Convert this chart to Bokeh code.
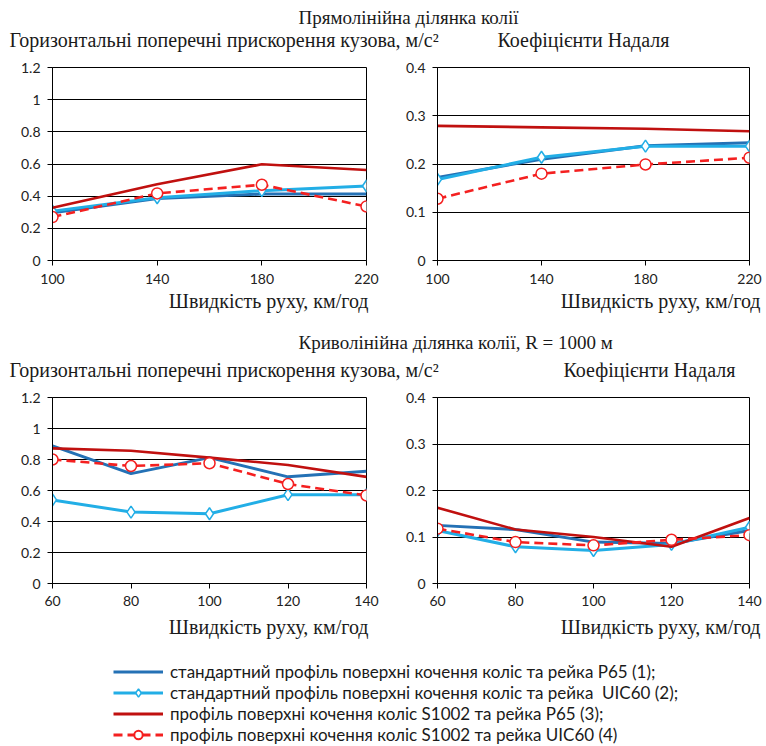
from bokeh.plotting import figure
from bokeh.models import Range1d, FixedTicker, Label, Legend, LegendItem
from bokeh.layouts import column, row
from bokeh.embed import file_html
from bokeh.resources import INLINE
from bokeh.core.properties import value

# ---------------- data ----------------
speed_straight = [100, 140, 180, 220]
speed_curve = [60, 80, 100, 120, 140]

acc_straight_1 = [0.297, 0.386, 0.413, 0.413]
acc_straight_2 = [0.307, 0.390, 0.434, 0.463]
acc_straight_3 = [0.328, 0.474, 0.598, 0.563]
acc_straight_4 = [0.270, 0.417, 0.471, 0.336]

nad_straight_1 = [0.172, 0.210, 0.238, 0.244]
nad_straight_2 = [0.168, 0.214, 0.237, 0.237]
nad_straight_3 = [0.279, 0.276, 0.273, 0.268]
nad_straight_4 = [0.128, 0.180, 0.199, 0.213]

acc_curve_1 = [0.888, 0.709, 0.812, 0.688, 0.724]
acc_curve_2 = [0.539, 0.461, 0.450, 0.573, 0.573]
acc_curve_3 = [0.872, 0.856, 0.812, 0.765, 0.688]
acc_curve_4 = [0.800, 0.758, 0.776, 0.642, 0.568]

nad_curve_1 = [0.125, 0.116, 0.089, 0.086, 0.114]
nad_curve_2 = [0.114, 0.079, 0.071, 0.084, 0.121]
nad_curve_3 = [0.163, 0.116, 0.100, 0.079, 0.141]
nad_curve_4 = [0.118, 0.089, 0.082, 0.094, 0.104]

acc_ticks = [0, 0.2, 0.4, 0.6, 0.8, 1.0, 1.2]
acc_tick_labels = ["0", "0.2", "0.4", "0.6", "0.8", "1", "1.2"]
nad_ticks = [0, 0.1, 0.2, 0.3, 0.4]
nad_tick_labels = ["0", "0.1", "0.2", "0.3", "0.4"]

title_straight = "Прямолінійна ділянка колії"
title_curve = "Криволінійна ділянка колії, R = 1000 м"
title_acc = "Горизонтальні поперечні прискорення кузова, м/с²"
title_nad = "Коефіцієнти Надаля"
x_title = "Швидкість руху, км/год"

series_labels = [
    "стандартний профіль поверхні кочення коліс та рейка Р65 (1);",
    "стандартний профіль поверхні кочення коліс та рейка  UIC60 (2);",
    "профіль поверхні кочення коліс S1002 та рейка Р65 (3);",
    "профіль поверхні кочення коліс S1002 та рейка UIC60 (4)",
]

# ---------------- style ----------------
C1 = "#2471b5"
C2 = "#22aee6"
C3 = "#c0100f"
C4 = "#f42020"
SERIF = "Liberation Serif"
SANS = "Lato"
TXT = "#1a1a1a"
W = 766
W_LEFT = 391
W_RIGHT = 375
BASE = 5  # rendered baseline sits this many px below the label anchor


def blank(height):
    p = figure(width=W, height=height, x_range=Range1d(0, W), y_range=Range1d(0, height),
               min_border=0, title=None, output_backend="svg", toolbar_location=None)
    p.xaxis.visible = False
    p.yaxis.visible = False
    p.xgrid.visible = False
    p.ygrid.visible = False
    p.outline_line_color = None
    p.background_fill_color = "white"
    p.border_fill_color = "white"
    return p


def add_text(p, text, x, baseline_from_top, size, align="left"):
    y = p.height - baseline_from_top + BASE
    p.add_layout(Label(x=x, y=y, text=text, text_font=SERIF, text_font_size=size,
                       text_color=TXT, text_align=align, text_baseline="alphabetic"))


def plot(xs, series, y_max, y_ticks, y_labels, width, bl, br, bt, fh, bb, tick_standoff):
    p = figure(width=width, height=bt + fh + bb, title=None,
               x_range=Range1d(xs[0], xs[-1]), y_range=Range1d(0, y_max),
               min_border_left=bl, min_border_right=br, min_border_top=bt, min_border_bottom=bb,
               output_backend="svg", toolbar_location=None)
    p.background_fill_color = "white"
    p.border_fill_color = "white"
    p.outline_line_color = "black"
    p.outline_line_width = 1
    p.xgrid.visible = False
    p.ygrid.ticker = FixedTicker(ticks=y_ticks)
    p.ygrid.grid_line_color = "black"
    p.ygrid.grid_line_width = 1
    p.xaxis.ticker = FixedTicker(ticks=xs)
    p.yaxis.ticker = FixedTicker(ticks=y_ticks)
    p.yaxis.major_label_overrides = dict(zip(y_ticks, y_labels))
    p.xaxis.major_label_overrides = {x: str(x) for x in xs}
    for ax in (p.xaxis, p.yaxis):
        ax.axis_line_color = "black"
        ax.major_tick_line_color = "black"
        ax.major_tick_out = 5
        ax.major_tick_in = 0
        ax.minor_tick_line_color = None
        ax.major_label_text_font = SANS
        ax.major_label_text_font_size = "14px"
        ax.major_label_text_color = "#222222"
    p.yaxis.major_label_standoff = 7
    p.xaxis.major_label_standoff = tick_standoff

    s1, s2, s3, s4 = series
    p.line(xs, s1, line_color=C1, line_width=3)
    p.line(xs, s2, line_color=C2, line_width=3)
    p.scatter(xs, s2, marker="diamond", size=12, fill_color="white", line_color=C2, line_width=1.5)
    p.line(xs, s3, line_color=C3, line_width=2.6)
    p.line(xs, s4, line_color=C4, line_width=2.6, line_dash="9 5")
    p.scatter(xs, s4, marker="circle", size=11, fill_color="white", line_color=C4, line_width=1.5)
    return p


# strip 1: page y 0..58
strip1 = blank(58)
add_text(strip1, title_straight, 298, 22, "19px")
add_text(strip1, title_acc, 9, 44, "20px")
add_text(strip1, title_nad, 497, 44, "20px")

# row 1: page y 58..290
p_tl = plot(speed_straight, [acc_straight_1, acc_straight_2, acc_straight_3, acc_straight_4],
            1.2, acc_ticks, acc_tick_labels, W_LEFT, 52, 25, 9, 193, 30, 8)
p_tr = plot(speed_straight, [nad_straight_1, nad_straight_2, nad_straight_3, nad_straight_4],
            0.4, nad_ticks, nad_tick_labels, W_RIGHT, 46, 17, 9, 193, 30, 8)

# strip 2: page y 290..388
strip2 = blank(98)
add_text(strip2, x_title, 368, 15, "20px", "right")
add_text(strip2, x_title, 760, 15, "20px", "right")
add_text(strip2, title_curve, 298, 57, "19px")
add_text(strip2, title_acc, 9, 84, "20px")
add_text(strip2, title_nad, 563, 84, "20px")

# row 2: page y 388..614
p_bl = plot(speed_curve, [acc_curve_1, acc_curve_2, acc_curve_3, acc_curve_4],
            1.2, acc_ticks, acc_tick_labels, W_LEFT, 52, 25, 9, 186, 31, 7)
p_br = plot(speed_curve, [nad_curve_1, nad_curve_2, nad_curve_3, nad_curve_4],
            0.4, nad_ticks, nad_tick_labels, W_RIGHT, 46, 17, 9, 186, 31, 7)

# strip 3 (axis titles + legend): page y 614..746
strip3 = blank(132)
add_text(strip3, x_title, 368, 17, "20px", "right")
add_text(strip3, x_title, 760, 17, "20px", "right")

# legend renderers live on a hidden y range so only their legend samples show
strip3.extra_y_ranges = {"hidden": Range1d(100, 101)}
xs = speed_curve
l1 = strip3.line(xs, acc_curve_1, line_color=C1, line_width=3, y_range_name="hidden")
l2 = strip3.line(xs, acc_curve_2, line_color=C2, line_width=3, y_range_name="hidden")
m2 = strip3.scatter(xs, acc_curve_2, marker="diamond", size=12, fill_color="white",
                    line_color=C2, line_width=1.5, y_range_name="hidden")
l3 = strip3.line(xs, acc_curve_3, line_color=C3, line_width=3, y_range_name="hidden")
l4 = strip3.line(xs, acc_curve_4, line_color=C4, line_width=3, line_dash="9 5", y_range_name="hidden")
m4 = strip3.scatter(xs, acc_curve_4, marker="circle", size=13, fill_color="white",
                    line_color=C4, line_width=2, y_range_name="hidden")

legend = Legend(items=[
    LegendItem(label=value(series_labels[0]), renderers=[l1]),
    LegendItem(label=value(series_labels[1]), renderers=[l2, m2]),
    LegendItem(label=value(series_labels[2]), renderers=[l3]),
    LegendItem(label=value(series_labels[3]), renderers=[l4, m4]),
], location=(113, 1), orientation="vertical", glyph_width=50, glyph_height=21,
    label_height=21, spacing=0, padding=0, margin=0, label_standoff=7,
    border_line_color=None, background_fill_alpha=0,
    label_text_font=SANS, label_text_font_size="17px", label_text_color="#1a1a1a")
strip3.add_layout(legend, "center")

layout = column(strip1, row(p_tl, p_tr), strip2, row(p_bl, p_br), strip3)

open("out.html", "w").write(file_html(layout, INLINE))
